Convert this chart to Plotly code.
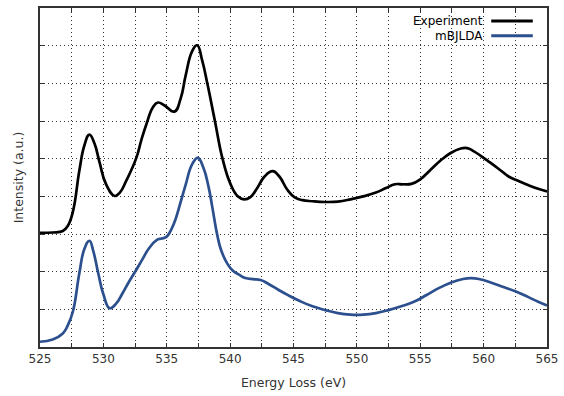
import plotly.graph_objects as go

exp_x = [525.0, 526.0, 526.8, 527.2, 527.6, 528.1, 528.5, 528.9, 529.3, 529.7, 530.2, 530.9,
         531.3, 531.8, 532.6, 533.0, 533.4, 533.9, 534.3, 534.8, 535.6, 536.1, 536.5, 537.0, 537.4,
         537.8, 538.2, 538.8, 539.4, 540.0, 540.6, 541.1, 541.6, 542.1, 542.7, 543.35, 543.9,
         544.5, 545.1, 545.7, 546.5, 547.5, 548.5, 549.5, 550.5, 551.5, 552.3, 553.0, 553.6,
         554.3, 555.0, 555.8, 556.6, 557.4, 558.2, 558.7, 559.2, 559.8, 560.5, 561.3, 562.0,
         562.8, 563.5, 564.3, 565.0]
exp_y = [3.03, 3.04, 3.08, 3.22, 3.6, 4.67, 5.35, 5.64, 5.4, 4.9, 4.33, 4.01,
         4.1, 4.41, 5.02, 5.5, 5.92, 6.36, 6.49, 6.42, 6.25, 6.6, 7.22, 7.85, 8.01,
         7.6, 7.0, 6.0, 5.0, 4.35, 4.0, 3.92, 3.98, 4.2, 4.52, 4.67, 4.52,
         4.18, 3.97, 3.9, 3.87, 3.85, 3.86, 3.92, 4.0, 4.1, 4.22, 4.32, 4.32,
         4.33, 4.45, 4.7, 4.95, 5.15, 5.27, 5.28, 5.2, 5.07, 4.9, 4.7, 4.52,
         4.4, 4.3, 4.2, 4.13]

mbj_x = [525.0, 526.0, 526.8, 527.2, 527.6, 528.1, 528.5, 528.9, 529.2, 529.6, 530.0, 530.5,
         531.0, 531.5, 532.0, 532.6, 533.1, 533.6, 534.2, 534.6, 535.0, 535.4, 535.7, 536.1,
         536.5, 537.0, 537.45, 537.9, 538.3, 538.6, 539.0, 539.3, 539.8, 540.2, 540.7, 541.2,
         541.8, 542.4, 543.0, 543.8, 544.6, 545.5, 546.5, 547.5, 548.5, 549.5, 550.5, 551.5,
         552.5, 553.5, 554.5, 555.5, 556.5, 557.5, 558.3, 559.0, 559.7, 560.5, 561.5, 562.5,
         563.5, 564.3, 565.0]
mbj_y = [0.14, 0.2, 0.36, 0.58, 0.95, 1.95, 2.6, 2.82, 2.55, 1.95, 1.4, 1.03,
         1.15, 1.42, 1.72, 2.05, 2.34, 2.62, 2.84, 2.88, 2.93, 3.15, 3.4, 3.85,
         4.32, 4.85, 5.02, 4.75, 4.25, 3.7, 2.95, 2.56, 2.2, 2.03, 1.92, 1.83,
         1.8, 1.78, 1.68, 1.52, 1.37, 1.22, 1.08, 0.98, 0.9, 0.86, 0.86, 0.9,
         0.98, 1.08, 1.2, 1.38, 1.57, 1.72, 1.8, 1.83, 1.8, 1.72, 1.6, 1.48,
         1.33, 1.2, 1.1]

x_tickvals = [525 + 2.5 * i for i in range(17)]
x_ticktext = [str(int(v)) if v % 5 == 0 else "" for v in x_tickvals]
y_tickvals = list(range(0, 10))

names = ["Experiment", "mBJLDA"]
colors = ["#000000", "#2c4f8e"]

fig = go.Figure()
fig.add_trace(go.Scatter(x=exp_x, y=exp_y, mode="lines", name=names[0],
                         line=dict(color=colors[0], width=2.7, shape="spline", smoothing=1.3)))
fig.add_trace(go.Scatter(x=mbj_x, y=mbj_y, mode="lines", name=names[1],
                         line=dict(color=colors[1], width=2.7, shape="spline", smoothing=1.3)))

# legend (gnuplot style: text then line sample)
for i, (nm, c) in enumerate(zip(names, colors)):
    yy = 0.962 - i * 0.044
    fig.add_annotation(xref="paper", yref="paper", x=0.878, y=yy, text=nm, showarrow=False,
                       xanchor="right", yanchor="middle",
                       font=dict(family="DejaVu Sans", size=12, color="#000"))
    fig.add_shape(type="line", xref="paper", yref="paper", x0=0.89, x1=0.972, y0=yy, y1=yy,
                  line=dict(color=c, width=3))

axis_common = dict(showline=True, linecolor="#333", linewidth=1.5, mirror="ticks",
                   ticks="inside", ticklen=4, tickcolor="#333",
                   showgrid=True, gridcolor="#333", griddash="1px,3px", gridwidth=1, zeroline=False)

fig.update_layout(
    width=564, height=396,
    margin=dict(l=40, r=15, t=6, b=49),
    plot_bgcolor="white", paper_bgcolor="white",
    showlegend=False,
    font=dict(family="DejaVu Sans", size=12, color="#333"),
    xaxis=dict(range=[525, 565], tickvals=x_tickvals, ticktext=x_ticktext,
               title=dict(text="Energy Loss (eV)", standoff=13, font=dict(size=12.5)), **axis_common),
    yaxis=dict(range=[0, 9], tickvals=y_tickvals, showticklabels=False,
               title=dict(text="Intensity (a.u.)", standoff=12, font=dict(size=12.5)), **axis_common),
)

fig.write_html("out.html")
